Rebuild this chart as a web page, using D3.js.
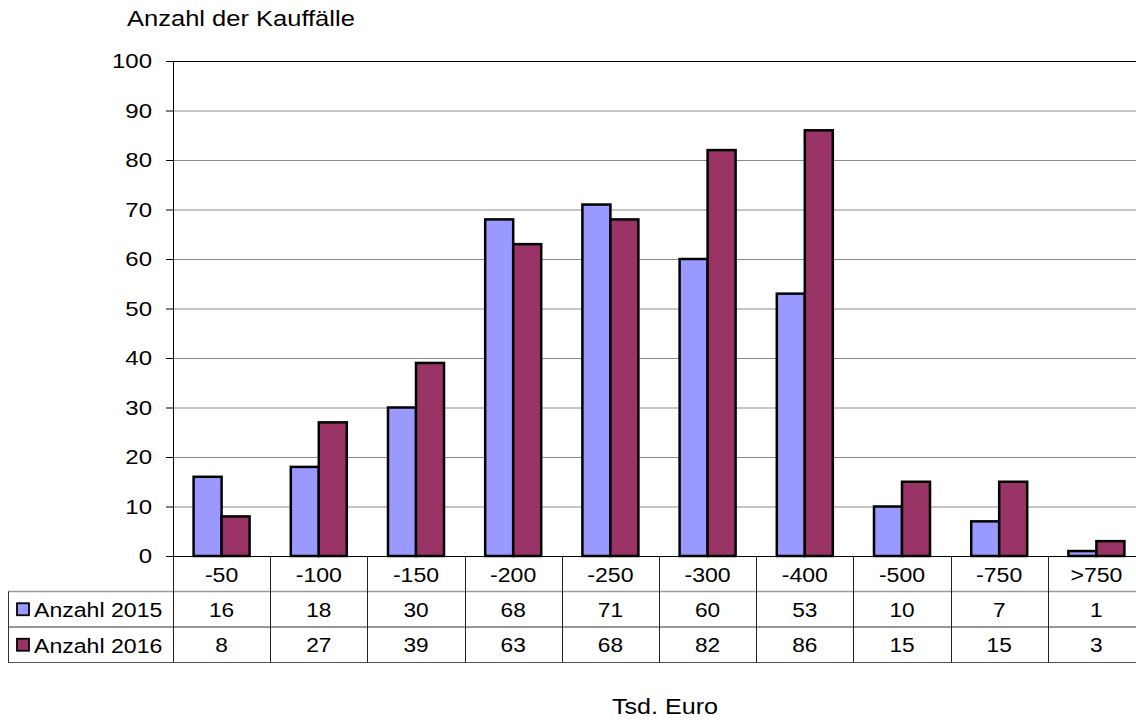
<!DOCTYPE html>
<html><head><meta charset="utf-8">
<script src="https://cdn.jsdelivr.net/npm/d3@7"></script>
<style>body{margin:0;background:#fff}svg{display:block}text{font-family:"Liberation Sans",Arial,sans-serif;fill:#000}</style>
</head><body>
<script>
const categories = ["-50","-100","-150","-200","-250","-300","-400","-500","-750",">750"];
const series = ["Anzahl 2015","Anzahl 2016"];
const values2015 = [16,18,30,68,71,60,53,10,7,1];
const values2016 = [8,27,39,63,68,82,86,15,15,3];
const yTicks = [0,10,20,30,40,50,60,70,80,90,100];
const colors = ["#9999FF","#993366"];
const data = [values2015, values2016];

const W = 1136, H = 722;
const svg = d3.select("body").append("svg").attr("width", W).attr("height", H);

const x = d3.scaleBand().domain(categories).range([173, 1145]).padding(0);
const y = d3.scaleLinear().domain([0, 100]).range([556, 61]);
const barW = 28;

function txt(px, py, s, anchor, size, sx) {
  return svg.append("text")
    .attr("transform", `translate(${px},${py}) scale(${sx},1)`)
    .attr("text-anchor", anchor)
    .style("font-size", size + "px")
    .text(s);
}

// gridlines
svg.append("g").selectAll("line").data(yTicks.filter(d => d > 0)).join("line")
  .attr("x1", 173).attr("x2", W).attr("y1", d => y(d) + 0.5).attr("y2", d => y(d) + 0.5)
  .attr("stroke", d => d === 100 ? "#000" : "#8a8a8a").attr("stroke-width", 1);

// y ticks
svg.append("g").selectAll("line").data(yTicks).join("line")
  .attr("x1", 166).attr("x2", 173).attr("y1", d => y(d) + 0.5).attr("y2", d => y(d) + 0.5)
  .attr("stroke", "#000");
yTicks.forEach(t => txt(152, y(t) + 7, String(t), "end", 20, 1.2));

// bars
series.forEach((s, i) => {
  svg.append("g").selectAll("rect").data(categories).join("rect")
    .attr("x", c => x(c) + (x.bandwidth() - 2 * barW) / 2 + i * barW)
    .attr("y", (c, j) => y(data[i][j]))
    .attr("width", barW)
    .attr("height", (c, j) => y(0) - y(data[i][j]))
    .attr("fill", colors[i]).attr("stroke", "#000").attr("stroke-width", 2.5);
});

// axes lines
svg.append("line").attr("x1", 173.5).attr("x2", 173.5).attr("y1", 61).attr("y2", 556).attr("stroke", "#000");
svg.append("line").attr("x1", 166).attr("x2", W).attr("y1", 556.5).attr("y2", 556.5).attr("stroke", "#000");

// data table
const rowY = [556, 591.5, 627, 662.5];
svg.append("line").attr("x1", 8).attr("x2", W).attr("y1", rowY[1]).attr("y2", rowY[1]).attr("stroke", "#999").attr("stroke-width", 1.3);
svg.append("line").attr("x1", 8).attr("x2", W).attr("y1", rowY[2]).attr("y2", rowY[2]).attr("stroke", "#333");
svg.append("line").attr("x1", 8).attr("x2", W).attr("y1", rowY[3]).attr("y2", rowY[3]).attr("stroke", "#555");
svg.append("line").attr("x1", 8.5).attr("x2", 8.5).attr("y1", rowY[1]).attr("y2", rowY[3]).attr("stroke", "#333");
svg.append("g").selectAll("line").data(categories).join("line")
  .attr("x1", c => Math.round(x(c)) + 0.5).attr("x2", c => Math.round(x(c)) + 0.5)
  .attr("y1", 556).attr("y2", rowY[3]).attr("stroke", "#222");

categories.forEach((c, j) => {
  const cx = x(c) + x.bandwidth() / 2;
  txt(cx, 582, c, "middle", 21, 1.1);
  txt(cx, 617, String(values2015[j]), "middle", 21, 1.08);
  txt(cx, 652, String(values2016[j]), "middle", 21, 1.08);
});

// legend in table
series.forEach((s, i) => {
  const cy = (rowY[i + 1] + rowY[i + 2]) / 2;
  svg.append("rect").attr("x", 17).attr("y", cy - 6).attr("width", 12).attr("height", 12)
    .attr("fill", colors[i]).attr("stroke", "#000").attr("stroke-width", 1.8);
  txt(34, cy + 8, s, "start", 21, 1.1);
});

// titles
txt(127, 26, "Anzahl der Kauffälle", "start", 22, 1.16);
txt(665, 714, "Tsd. Euro", "middle", 22, 1.14);
</script>
</body></html>
